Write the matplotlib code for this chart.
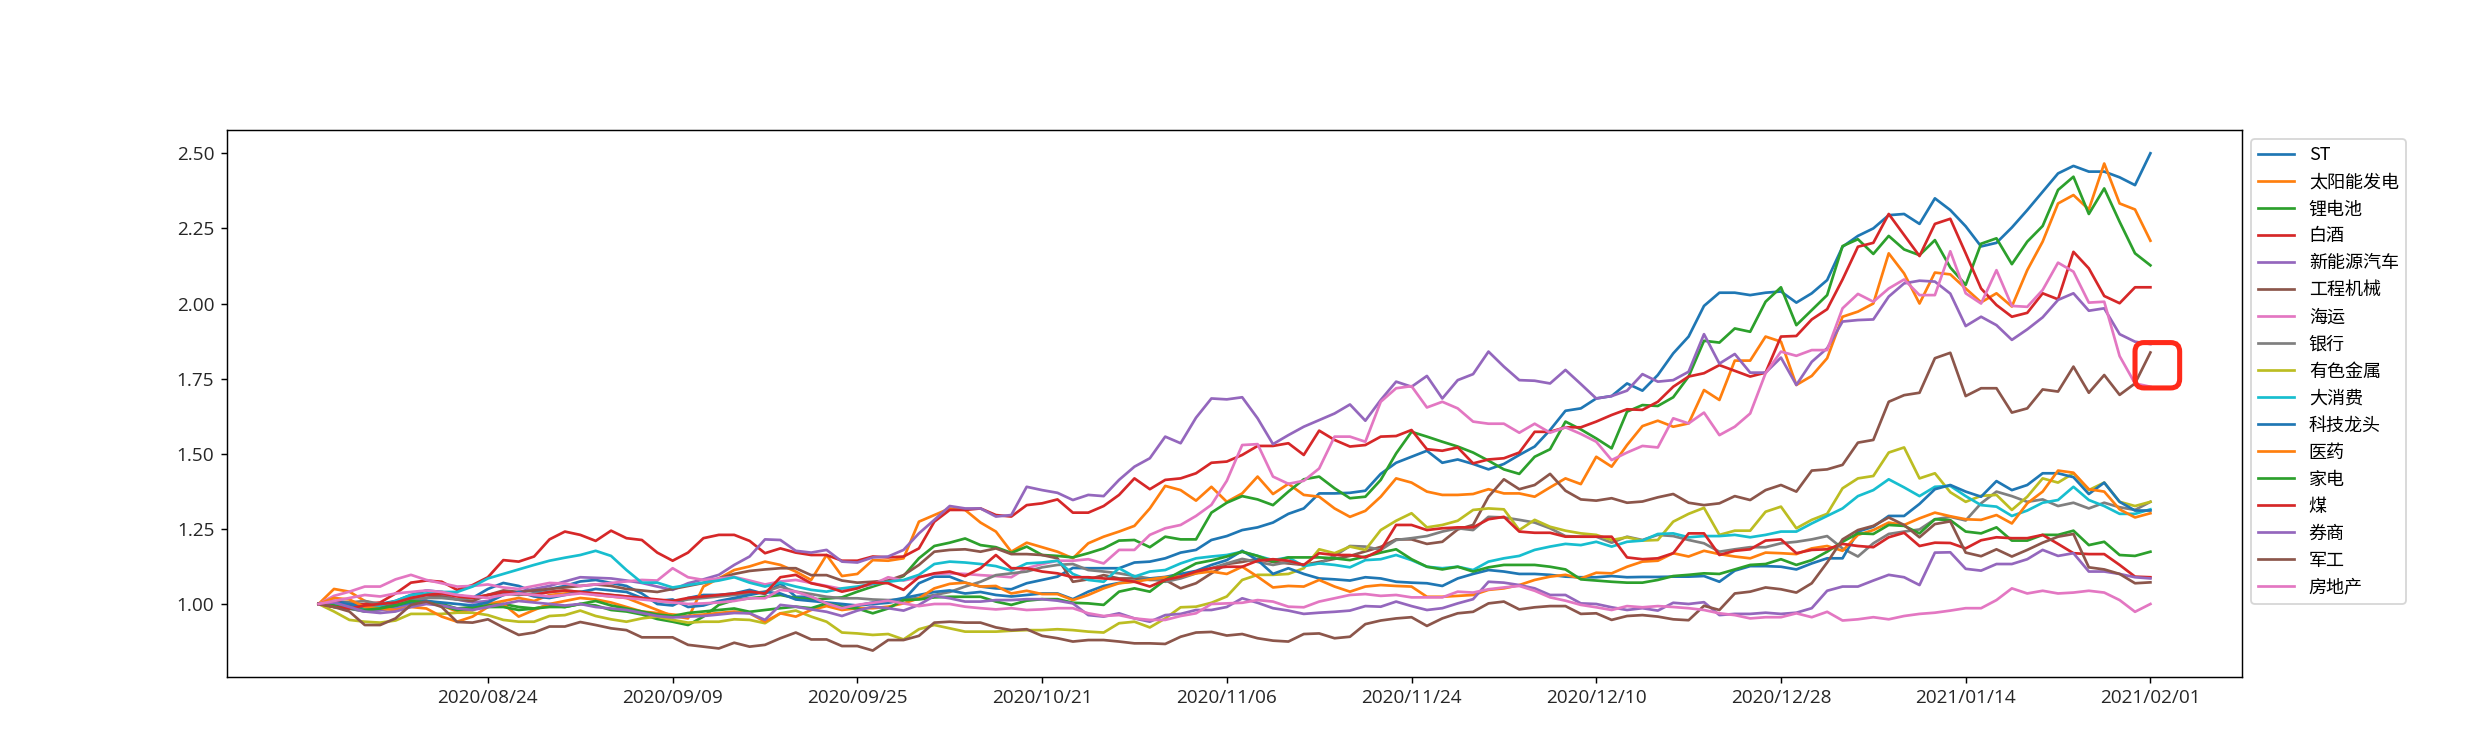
import numpy as np
import matplotlib
matplotlib.use("Agg")
import matplotlib.pyplot as plt
from matplotlib.patches import FancyBboxPatch
from matplotlib.transforms import IdentityTransform

plt.rcParams['font.family'] = ['Noto Sans CJK SC', 'DejaVu Sans']
plt.rcParams['axes.unicode_minus'] = False

# ---------------- data ----------------
tick_positions = [11, 23, 35, 47, 59, 71, 83, 95, 107, 119]
tick_labels = ["2020/08/24", "2020/09/09", "2020/09/25", "2020/10/21", "2020/11/06",
               "2020/11/24", "2020/12/10", "2020/12/28", "2021/01/14", "2021/02/01"]

series_names = ["ST", "太阳能发电", "锂电池", "白酒", "新能源汽车", "工程机械", "海运", "银行",
                "有色金属", "大消费", "科技龙头", "医药", "家电", "煤", "券商", "军工", "房地产"]

ST = [1.00, 1.01, 1.005, 0.995, 1.00, 1.01, 1.03, 1.045, 1.04, 1.03,
      1.02, 1.05, 1.07, 1.06, 1.04, 1.05, 1.06, 1.075, 1.08, 1.07,
      1.06, 1.035, 1.00, 0.995, 1.02, 1.03, 1.03, 1.035, 1.047, 1.033,
      1.069, 1.024, 1.024, 1.00, 0.991, 0.995, 1.00, 1.004, 1.013, 1.069,
      1.091, 1.091, 1.071, 1.058, 1.052, 1.049, 1.069, 1.08, 1.091, 1.12,
      1.119, 1.119, 1.119, 1.138, 1.141, 1.152, 1.171, 1.18, 1.213, 1.226,
      1.246, 1.255, 1.271, 1.30, 1.318, 1.368, 1.368, 1.37, 1.377, 1.433,
      1.47, 1.49, 1.51, 1.47, 1.481, 1.466, 1.448, 1.466, 1.496, 1.524,
      1.579, 1.643, 1.651, 1.684, 1.692, 1.734, 1.71, 1.762, 1.834, 1.89,
      1.992, 2.036, 2.036, 2.028, 2.036, 2.04, 2.003, 2.034, 2.078, 2.189,
      2.225, 2.25, 2.294, 2.298, 2.265, 2.35, 2.311, 2.257, 2.19, 2.202,
      2.253, 2.311, 2.372, 2.433, 2.458, 2.439, 2.439, 2.42, 2.394, 2.50]

solar = [1.00, 1.05, 1.041, 1.01, 0.995, 0.99, 1.0, 1.01, 0.995, 0.975,
         0.98, 1.0, 1.01, 1.02, 1.01, 1.03, 1.035, 1.04, 1.03, 1.025,
         1.02, 1.0, 0.98, 0.96, 0.952, 1.058, 1.085, 1.113, 1.125, 1.141,
         1.13, 1.108, 1.08, 1.163, 1.093, 1.10, 1.146, 1.144, 1.152, 1.274,
         1.296, 1.318, 1.313, 1.271, 1.241, 1.174, 1.204, 1.189, 1.174, 1.152,
         1.202, 1.224, 1.241, 1.26, 1.318, 1.393, 1.379, 1.344, 1.39, 1.34,
         1.368, 1.424, 1.366, 1.40, 1.363, 1.357, 1.318, 1.29, 1.31, 1.357,
         1.418, 1.404, 1.374, 1.363, 1.363, 1.366, 1.382, 1.368, 1.368, 1.357,
         1.388, 1.418, 1.399, 1.49, 1.457, 1.529, 1.592, 1.61, 1.59, 1.601,
         1.712, 1.679, 1.81, 1.81, 1.89, 1.873, 1.729, 1.759, 1.818, 1.956,
         1.973, 2.00, 2.167, 2.10, 2.00, 2.103, 2.097, 2.05, 2.004, 2.034,
         1.99, 2.111, 2.206, 2.333, 2.361, 2.313, 2.466, 2.333, 2.313, 2.209]

lithium = [1.00, 0.99, 0.985, 0.975, 0.98, 0.99, 1.005, 1.01, 1.0, 0.985,
           0.99, 0.995, 1.0, 0.99, 0.985, 0.995, 0.99, 1.0, 0.995, 0.98,
           0.975, 0.965, 0.95, 0.941, 0.93, 0.958, 0.997, 1.013, 1.019, 1.024,
           1.03, 1.02, 1.015, 1.018, 1.022, 1.041, 1.058, 1.074, 1.093, 1.152,
           1.193, 1.204, 1.218, 1.196, 1.189, 1.17, 1.191, 1.163, 1.16, 1.155,
           1.169, 1.185, 1.211, 1.213, 1.189, 1.224, 1.215, 1.215, 1.304, 1.337,
           1.359, 1.348, 1.329, 1.374, 1.415, 1.424, 1.385, 1.352, 1.357, 1.413,
           1.501, 1.573, 1.557, 1.54, 1.524, 1.504, 1.477, 1.448, 1.433, 1.49,
           1.515, 1.607, 1.581, 1.551, 1.518, 1.64, 1.662, 1.659, 1.688, 1.757,
           1.876, 1.87, 1.917, 1.906, 2.006, 2.054, 1.928, 1.978, 2.028, 2.191,
           2.214, 2.165, 2.225, 2.18, 2.161, 2.211, 2.12, 2.062, 2.199, 2.217,
           2.131, 2.206, 2.258, 2.378, 2.422, 2.298, 2.383, 2.272, 2.167, 2.127]

baijiu = [1.00, 1.01, 0.995, 1.0, 1.005, 1.035, 1.071, 1.078, 1.074, 1.047,
          1.063, 1.089, 1.146, 1.141, 1.158, 1.215, 1.241, 1.23, 1.21, 1.244,
          1.219, 1.213, 1.171, 1.144, 1.171, 1.219, 1.23, 1.23, 1.21, 1.169,
          1.185, 1.171, 1.163, 1.163, 1.144, 1.144, 1.158, 1.155, 1.158, 1.185,
          1.274, 1.313, 1.313, 1.318, 1.296, 1.291, 1.329, 1.335, 1.348, 1.304,
          1.304, 1.326, 1.363, 1.418, 1.382, 1.413, 1.418, 1.435, 1.47, 1.474,
          1.496, 1.526, 1.526, 1.535, 1.496, 1.577, 1.546, 1.524, 1.529, 1.557,
          1.559, 1.579, 1.515, 1.51, 1.521, 1.468, 1.481, 1.485, 1.504, 1.573,
          1.573, 1.588, 1.588, 1.607, 1.629, 1.648, 1.646, 1.673, 1.723, 1.757,
          1.768, 1.795, 1.776, 1.757, 1.77, 1.89, 1.892, 1.947, 1.981, 2.08,
          2.189, 2.202, 2.298, 2.228, 2.158, 2.265, 2.282, 2.167, 2.05, 1.995,
          1.956, 1.969, 2.034, 2.014, 2.172, 2.117, 2.025, 2.001, 2.054, 2.054]

nev = [1.00, 0.995, 0.985, 0.975, 0.98, 0.985, 1.0, 1.02, 1.03, 1.015,
       1.005, 1.01, 1.03, 1.04, 1.05, 1.06, 1.075, 1.089, 1.087, 1.085,
       1.078, 1.07, 1.058, 1.047, 1.069, 1.082, 1.097, 1.13, 1.158, 1.215,
       1.213, 1.177, 1.171, 1.18, 1.141, 1.138, 1.155, 1.158, 1.18, 1.235,
       1.28, 1.326, 1.318, 1.318, 1.291, 1.296, 1.39, 1.379, 1.37, 1.346,
       1.363, 1.359, 1.413, 1.457, 1.485, 1.557, 1.535, 1.62, 1.684, 1.681,
       1.688, 1.618, 1.532, 1.562, 1.59, 1.612, 1.634, 1.664, 1.61, 1.679,
       1.74, 1.723, 1.759, 1.684, 1.745, 1.765, 1.84, 1.79, 1.745, 1.743,
       1.734, 1.779, 1.732, 1.684, 1.692, 1.71, 1.765, 1.74, 1.745, 1.773,
       1.898, 1.80, 1.832, 1.77, 1.77, 1.82, 1.729, 1.806, 1.851, 1.94,
       1.945, 1.947, 2.023, 2.067, 2.076, 2.073, 2.033, 1.925, 1.956, 1.928,
       1.879, 1.914, 1.954, 2.012, 2.034, 1.976, 1.984, 1.898, 1.873, 1.865]

machinery = [1.00, 0.995, 0.99, 0.985, 0.99, 1.0, 1.02, 1.03, 1.025, 1.015,
             1.01, 1.03, 1.045, 1.04, 1.045, 1.05, 1.055, 1.06, 1.065, 1.06,
             1.05, 1.045, 1.04, 1.05, 1.06, 1.07, 1.085, 1.1, 1.11, 1.115,
             1.119, 1.119, 1.096, 1.096, 1.078, 1.071, 1.074, 1.078, 1.096, 1.13,
             1.174, 1.18, 1.182, 1.174, 1.185, 1.166, 1.166, 1.163, 1.152, 1.074,
             1.082, 1.096, 1.085, 1.085, 1.08, 1.08, 1.052, 1.069, 1.102, 1.133,
             1.14, 1.15, 1.14, 1.135, 1.13, 1.14, 1.15, 1.16, 1.175, 1.19,
             1.215, 1.215, 1.20, 1.207, 1.248, 1.263, 1.357, 1.415, 1.382, 1.396,
             1.433, 1.377, 1.348, 1.344, 1.352, 1.337, 1.341, 1.355, 1.366, 1.337,
             1.329, 1.335, 1.359, 1.346, 1.379, 1.396, 1.374, 1.444, 1.448, 1.463,
             1.537, 1.546, 1.673, 1.695, 1.703, 1.818, 1.836, 1.692, 1.718, 1.718,
             1.637, 1.651, 1.714, 1.707, 1.79, 1.703, 1.762, 1.696, 1.734, 1.837]

shipping = [1.00, 1.027, 1.041, 1.058, 1.058, 1.082, 1.097, 1.08, 1.069, 1.058,
            1.06, 1.065, 1.055, 1.05, 1.06, 1.07, 1.068, 1.06, 1.065, 1.07,
            1.075, 1.08, 1.078, 1.119, 1.089, 1.08, 1.085, 1.09, 1.078, 1.065,
            1.075, 1.08, 1.07, 1.06, 1.05, 1.055, 1.065, 1.089, 1.078, 1.089,
            1.10, 1.102, 1.10, 1.096, 1.093, 1.089, 1.119, 1.133, 1.144, 1.144,
            1.149, 1.135, 1.18, 1.18, 1.23, 1.252, 1.263, 1.293, 1.33, 1.41,
            1.529, 1.532, 1.424, 1.40, 1.41, 1.451, 1.557, 1.557, 1.54, 1.673,
            1.718, 1.725, 1.654, 1.673, 1.651, 1.607, 1.60, 1.60, 1.57, 1.60,
            1.57, 1.588, 1.566, 1.54, 1.479, 1.504, 1.526, 1.521, 1.618, 1.601,
            1.637, 1.562, 1.59, 1.634, 1.768, 1.84, 1.826, 1.845, 1.845, 1.984,
            2.032, 2.006, 2.05, 2.08, 2.028, 2.028, 2.174, 2.034, 2.0, 2.111,
            1.992, 1.989, 2.045, 2.136, 2.106, 2.003, 2.006, 1.825, 1.734, 1.723]

bank = [1.00, 1.0, 1.005, 1.01, 1.0, 1.005, 1.015, 1.02, 1.02, 1.015,
        1.02, 1.03, 1.035, 1.03, 1.035, 1.04, 1.045, 1.04, 1.035, 1.03,
        1.025, 1.02, 1.01, 1.005, 1.015, 1.02, 1.025, 1.03, 1.035, 1.041,
        1.058, 1.041, 1.033, 1.024, 1.019, 1.019, 1.015, 1.013, 1.015, 1.02,
        1.03, 1.04, 1.058, 1.074, 1.096, 1.102, 1.108, 1.122, 1.13, 1.133,
        1.113, 1.108, 1.102, 1.093, 1.085, 1.074, 1.085, 1.102, 1.119, 1.135,
        1.15, 1.14, 1.13, 1.14, 1.13, 1.135, 1.16, 1.193, 1.191, 1.18,
        1.213, 1.219, 1.226, 1.241, 1.252, 1.246, 1.29, 1.288, 1.28, 1.271,
        1.252, 1.226, 1.224, 1.224, 1.204, 1.224, 1.213, 1.23, 1.226, 1.213,
        1.202, 1.174, 1.182, 1.189, 1.189, 1.202, 1.207, 1.215, 1.226, 1.185,
        1.158, 1.202, 1.233, 1.241, 1.248, 1.282, 1.29, 1.278, 1.335, 1.374,
        1.359, 1.34, 1.348, 1.326, 1.337, 1.318, 1.337, 1.322, 1.313, 1.34]

metals = [1.00, 0.975, 0.947, 0.941, 0.938, 0.945, 0.967, 0.967, 0.967, 0.971,
          0.971, 0.963, 0.947, 0.941, 0.941, 0.96, 0.963, 0.978, 0.96, 0.949,
          0.941, 0.952, 0.958, 0.947, 0.938, 0.941, 0.941, 0.949, 0.947, 0.936,
          0.969, 0.978, 0.958, 0.941, 0.905, 0.902, 0.897, 0.90, 0.882, 0.916,
          0.93, 0.919, 0.908, 0.908, 0.908, 0.911, 0.913, 0.913, 0.916, 0.913,
          0.908, 0.905, 0.936, 0.941, 0.922, 0.952, 0.989, 0.991, 1.004, 1.025,
          1.08, 1.097, 1.097, 1.10, 1.119, 1.182, 1.169, 1.191, 1.18, 1.246,
          1.277, 1.302, 1.255, 1.263, 1.277, 1.313, 1.318, 1.315, 1.246, 1.28,
          1.257, 1.244, 1.235, 1.23, 1.213, 1.222, 1.211, 1.213, 1.274, 1.30,
          1.32, 1.23, 1.244, 1.244, 1.307, 1.324, 1.252, 1.28, 1.30, 1.385,
          1.418, 1.426, 1.504, 1.521, 1.418, 1.435, 1.372, 1.34, 1.36, 1.363,
          1.313, 1.357, 1.418, 1.404, 1.435, 1.379, 1.404, 1.34, 1.326, 1.34]

consumer = [1.00, 1.0, 0.99, 0.985, 0.995, 1.01, 1.03, 1.035, 1.04, 1.04,
            1.058, 1.085, 1.10, 1.115, 1.13, 1.144, 1.154, 1.163, 1.177, 1.16,
            1.113, 1.071, 1.071, 1.055, 1.063, 1.071, 1.078, 1.089, 1.071, 1.058,
            1.071, 1.058, 1.047, 1.041, 1.052, 1.058, 1.067, 1.074, 1.08, 1.097,
            1.133, 1.141, 1.138, 1.133, 1.126, 1.111, 1.135, 1.138, 1.144, 1.10,
            1.08, 1.074, 1.119, 1.091, 1.108, 1.113, 1.135, 1.152, 1.158, 1.163,
            1.174, 1.16, 1.146, 1.155, 1.126, 1.135, 1.13, 1.122, 1.146, 1.149,
            1.163, 1.146, 1.124, 1.119, 1.124, 1.113, 1.141, 1.152, 1.16, 1.18,
            1.191, 1.20, 1.196, 1.207, 1.191, 1.207, 1.211, 1.233, 1.235, 1.222,
            1.226, 1.226, 1.23, 1.222, 1.23, 1.241, 1.241, 1.268, 1.293, 1.318,
            1.359, 1.379, 1.415, 1.388, 1.359, 1.39, 1.393, 1.359, 1.329, 1.324,
            1.293, 1.311, 1.337, 1.346, 1.39, 1.346, 1.326, 1.30, 1.30, 1.315]

tech = [1.00, 1.005, 1.0, 0.99, 0.985, 0.995, 1.005, 1.01, 1.005, 1.0,
        0.995, 1.005, 1.03, 1.04, 1.025, 1.02, 1.03, 1.04, 1.05, 1.045,
        1.04, 1.02, 1.01, 1.015, 0.99, 0.995, 1.01, 1.02, 1.03, 1.04,
        1.035, 1.015, 1.01, 1.005, 1.0, 0.995, 1.005, 1.01, 1.02, 1.03,
        1.04, 1.045, 1.035, 1.04, 1.03, 1.025, 1.03, 1.035, 1.035, 1.016,
        1.041, 1.06, 1.07, 1.075, 1.085, 1.09, 1.1, 1.11, 1.13, 1.146,
        1.177, 1.146, 1.10, 1.119, 1.10, 1.085, 1.082, 1.078, 1.089, 1.085,
        1.074, 1.071, 1.069, 1.06, 1.085, 1.10, 1.113, 1.108, 1.10, 1.10,
        1.097, 1.091, 1.089, 1.089, 1.093, 1.089, 1.09, 1.09, 1.091, 1.091,
        1.093, 1.074, 1.111, 1.126, 1.126, 1.124, 1.115, 1.135, 1.152, 1.152,
        1.241, 1.257, 1.293, 1.293, 1.333, 1.382, 1.396, 1.374, 1.357, 1.409,
        1.379, 1.396, 1.435, 1.435, 1.422, 1.366, 1.404, 1.34, 1.311, 1.311]

pharma = [1.00, 1.02, 1.015, 0.99, 0.985, 0.98, 0.99, 0.985, 0.958, 0.941,
          0.958, 0.99, 1.0, 0.958, 0.98, 1.0, 1.01, 1.02, 1.015, 1.005,
          0.99, 0.975, 0.97, 0.965, 0.96, 0.965, 0.97, 0.975, 0.969, 0.941,
          0.969, 0.958, 0.98, 0.993, 0.98, 0.986, 0.986, 0.991, 1.002, 1.019,
          1.052, 1.067, 1.071, 1.058, 1.06, 1.035, 1.044, 1.033, 1.033, 1.013,
          1.03, 1.052, 1.069, 1.074, 1.082, 1.089, 1.091, 1.102, 1.108, 1.10,
          1.124, 1.091, 1.055, 1.06, 1.058, 1.08, 1.058, 1.041, 1.058, 1.063,
          1.06, 1.058, 1.024, 1.024, 1.027, 1.03, 1.047, 1.052, 1.063, 1.08,
          1.091, 1.097, 1.085, 1.104, 1.102, 1.124, 1.141, 1.144, 1.169, 1.158,
          1.177, 1.166, 1.158, 1.152, 1.171, 1.169, 1.166, 1.185, 1.193, 1.177,
          1.23, 1.246, 1.271, 1.263, 1.285, 1.304, 1.292, 1.282, 1.28, 1.296,
          1.268, 1.335, 1.374, 1.444, 1.437, 1.382, 1.374, 1.315, 1.288, 1.302]

appliance = [1.00, 0.995, 0.985, 0.98, 0.985, 0.995, 1.01, 1.005, 0.995, 0.98,
             0.985, 0.99, 0.99, 0.98, 0.985, 0.99, 0.99, 1.0, 1.01, 0.995,
             0.985, 0.975, 0.965, 0.96, 0.97, 0.975, 0.98, 0.985, 0.974, 0.98,
             0.986, 0.991, 0.986, 1.002, 0.99, 0.985, 0.969, 0.985, 1.013, 1.015,
             1.022, 1.024, 1.024, 1.024, 1.008, 0.997, 1.011, 1.016, 1.016, 1.004,
             1.002, 0.997, 1.041, 1.052, 1.041, 1.08, 1.108, 1.135, 1.145, 1.158,
             1.174, 1.16, 1.141, 1.155, 1.155, 1.155, 1.152, 1.146, 1.158, 1.171,
             1.182, 1.149, 1.124, 1.115, 1.124, 1.108, 1.122, 1.13, 1.13, 1.13,
             1.124, 1.115, 1.082, 1.078, 1.074, 1.071, 1.071, 1.08, 1.093, 1.097,
             1.102, 1.10, 1.115, 1.13, 1.133, 1.149, 1.13, 1.146, 1.174, 1.207,
             1.235, 1.233, 1.263, 1.26, 1.235, 1.282, 1.279, 1.241, 1.235, 1.255,
             1.211, 1.211, 1.23, 1.23, 1.244, 1.196, 1.207, 1.163, 1.16, 1.174]

coal = [1.00, 0.99, 0.985, 0.995, 1.0, 1.005, 1.02, 1.03, 1.035, 1.025,
        1.02, 1.03, 1.04, 1.035, 1.03, 1.04, 1.045, 1.04, 1.035, 1.03,
        1.025, 1.02, 1.015, 1.01, 1.02, 1.025, 1.03, 1.035, 1.041, 1.035,
        1.089, 1.097, 1.069, 1.058, 1.041, 1.052, 1.071, 1.069, 1.047, 1.089,
        1.102, 1.108, 1.093, 1.119, 1.163, 1.119, 1.119, 1.108, 1.102, 1.089,
        1.089, 1.085, 1.082, 1.074, 1.058, 1.08, 1.091, 1.108, 1.119, 1.124,
        1.124, 1.144, 1.149, 1.144, 1.13, 1.169, 1.163, 1.163, 1.155, 1.18,
        1.263, 1.263, 1.246, 1.252, 1.255, 1.255, 1.282, 1.29, 1.241, 1.237,
        1.237, 1.224, 1.224, 1.224, 1.224, 1.155, 1.149, 1.152, 1.169, 1.235,
        1.235, 1.163, 1.177, 1.182, 1.211, 1.215, 1.169, 1.18, 1.182, 1.20,
        1.193, 1.189, 1.222, 1.237, 1.193, 1.204, 1.203, 1.185, 1.212, 1.222,
        1.219, 1.219, 1.23, 1.20, 1.169, 1.166, 1.166, 1.13, 1.091, 1.089]

broker = [1.00, 1.005, 0.99, 0.975, 0.97, 0.975, 0.99, 1.0, 0.995, 0.985,
          0.98, 0.99, 1.0, 1.01, 1.005, 1.0, 0.995, 1.0, 0.99, 0.985,
          0.98, 0.97, 0.96, 0.955, 0.958, 0.96, 0.965, 0.97, 0.969, 0.947,
          0.997, 0.991, 0.982, 0.974, 0.96, 0.978, 0.991, 0.986, 0.978, 0.997,
          1.027, 1.019, 1.008, 1.008, 1.013, 1.013, 1.016, 1.016, 1.011, 1.002,
          0.963, 0.958, 0.969, 0.952, 0.941, 0.963, 0.967, 0.98, 0.98, 0.99,
          1.019, 1.004, 0.986, 0.978, 0.967, 0.971, 0.974, 0.978, 0.993, 0.991,
          1.008, 0.993, 0.98, 0.986, 1.002, 1.016, 1.074, 1.071, 1.063, 1.052,
          1.03, 1.03, 1.002, 1.0, 0.989, 0.98, 0.986, 0.978, 1.004, 1.0,
          1.006, 0.963, 0.967, 0.967, 0.971, 0.967, 0.971, 0.986, 1.044, 1.058,
          1.058, 1.078, 1.097, 1.089, 1.063, 1.171, 1.172, 1.117, 1.111, 1.133,
          1.133, 1.149, 1.18, 1.16, 1.169, 1.108, 1.108, 1.10, 1.089, 1.085]

military = [1.00, 0.99, 0.975, 0.93, 0.93, 0.952, 0.997, 1.008, 0.99, 0.94,
            0.938, 0.949, 0.922, 0.897, 0.905, 0.925, 0.925, 0.94, 0.93, 0.919,
            0.913, 0.889, 0.889, 0.889, 0.864, 0.858, 0.852, 0.871, 0.858, 0.864,
            0.886, 0.905, 0.882, 0.882, 0.86, 0.86, 0.845, 0.88, 0.88, 0.894,
            0.938, 0.941, 0.938, 0.938, 0.922, 0.913, 0.916, 0.894, 0.886, 0.875,
            0.88, 0.88, 0.875, 0.869, 0.869, 0.867, 0.891, 0.905, 0.907, 0.895,
            0.90, 0.886, 0.878, 0.875, 0.90, 0.902, 0.886, 0.891, 0.933, 0.945,
            0.952, 0.956, 0.927, 0.952, 0.969, 0.974, 1.002, 1.008, 0.982, 0.989,
            0.993, 0.993, 0.967, 0.969, 0.947, 0.96, 0.963, 0.958, 0.949, 0.946,
            0.994, 0.98, 1.035, 1.041, 1.055, 1.049, 1.038, 1.069, 1.138, 1.215,
            1.246, 1.26, 1.288, 1.263, 1.222, 1.266, 1.275, 1.171, 1.159, 1.182,
            1.158, 1.18, 1.204, 1.224, 1.233, 1.122, 1.115, 1.10, 1.069, 1.072]

realestate = [1.00, 1.01, 1.02, 1.03, 1.025, 1.035, 1.04, 1.045, 1.04, 1.03,
              1.025, 1.02, 1.03, 1.035, 1.03, 1.025, 1.03, 1.035, 1.03, 1.025,
              1.02, 1.015, 1.01, 1.005, 1.0, 1.002, 1.005, 1.01, 1.019, 1.019,
              1.047, 1.041, 1.024, 1.002, 0.986, 0.997, 1.004, 1.011, 1.002, 0.993,
              1.0, 1.0, 0.991, 0.986, 0.982, 0.986, 0.98, 0.982, 0.986, 0.986,
              0.969, 0.96, 0.963, 0.952, 0.947, 0.947, 0.96, 0.969, 1.0, 1.002,
              1.004, 1.013, 1.008, 0.991, 0.989, 1.008, 1.019, 1.03, 1.033, 1.027,
              1.03, 1.022, 1.022, 1.022, 1.041, 1.038, 1.049, 1.055, 1.06, 1.044,
              1.022, 1.011, 0.997, 0.989, 0.98, 0.993, 0.989, 0.993, 0.99, 0.986,
              0.98, 0.969, 0.963, 0.952, 0.956, 0.956, 0.969, 0.956, 0.974, 0.945,
              0.949, 0.956, 0.949, 0.96, 0.967, 0.971, 0.978, 0.986, 0.986, 1.013,
              1.052, 1.035, 1.044, 1.035, 1.038, 1.044, 1.038, 1.013, 0.974, 1.0]

all_series = [ST, solar, lithium, baijiu, nev, machinery, shipping, bank, metals,
              consumer, tech, pharma, appliance, coal, broker, military, realestate]

# ---------------- figure ----------------
DPI = 130
fig = plt.figure(figsize=(2478 / DPI, 736 / DPI), dpi=DPI)
ax = fig.add_axes([227 / 2478, (736 - 676.7) / 736, (2242 - 227) / 2478, (676.7 - 130) / 736])

for name, vals in zip(series_names, all_series):
    ax.plot(np.arange(len(vals)), vals, label=name, linewidth=1.5)

ax.set_xlim(-5.95, 124.95)
ax.set_ylim(0.758, 2.5775)
ax.set_yticks([1.00, 1.25, 1.50, 1.75, 2.00, 2.25, 2.50])
ax.set_yticklabels(["1.00", "1.25", "1.50", "1.75", "2.00", "2.25", "2.50"])
ax.set_xticks(tick_positions)
ax.set_xticklabels(tick_labels)
for lab in ax.get_xticklabels() + ax.get_yticklabels():
    lab.set_fontfamily(['Open Sans', 'Noto Sans CJK SC', 'DejaVu Sans'])
    lab.set_fontsize(10.5)
    lab.set_color('#262626')

ax.legend(loc='upper left', bbox_to_anchor=(1, 1), fontsize=10)

# highlight box around the end of the 工程机械 line
fig.canvas.draw()
p0 = ax.transData.transform((118.0, 1.719))
p1 = ax.transData.transform((120.9, 1.870))
box = FancyBboxPatch((p0[0], p0[1]), p1[0] - p0[0], p1[1] - p0[1],
                     boxstyle="round,pad=0,rounding_size=9",
                     transform=IdentityTransform(), fill=False,
                     edgecolor='#ff2a1a', linewidth=2.8, zorder=10)
fig.add_artist(box)

fig.savefig("out.png", dpi=DPI)
